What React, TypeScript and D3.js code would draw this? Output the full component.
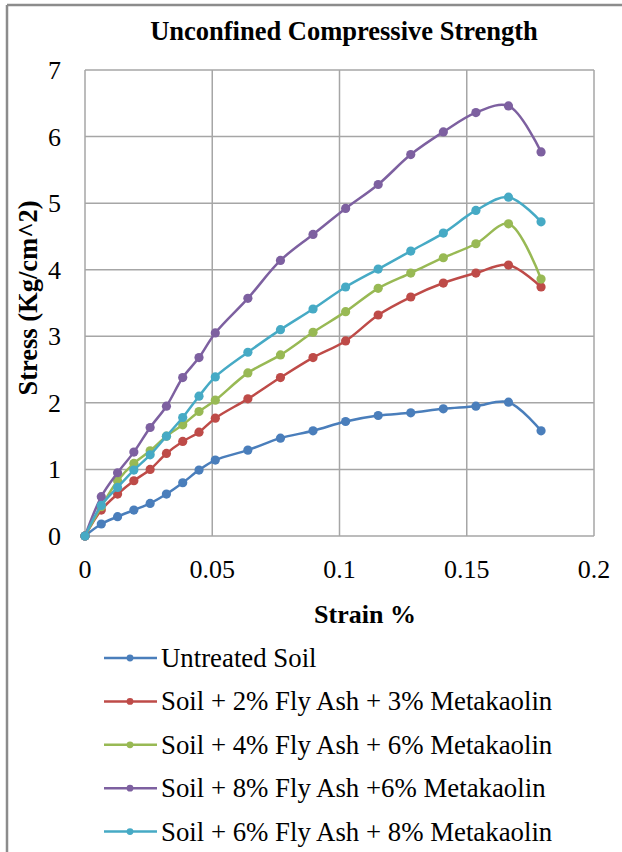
import React from "react";
import * as d3 from "d3";

const strain = [0, 0.0064, 0.0128, 0.0192, 0.0256, 0.032, 0.0384, 0.0448, 0.0512, 0.064, 0.0768, 0.0896, 0.1024, 0.1152, 0.128, 0.1408, 0.1536, 0.1664, 0.1792];

const untreated = [0, 0.18, 0.29, 0.39, 0.49, 0.63, 0.8, 0.99, 1.14, 1.29, 1.47, 1.58, 1.72, 1.81, 1.85, 1.91, 1.95, 2.01, 1.58];
const fa2mk3 = [0, 0.39, 0.63, 0.83, 1.0, 1.24, 1.42, 1.56, 1.77, 2.06, 2.38, 2.68, 2.93, 3.32, 3.59, 3.8, 3.95, 4.07, 3.74];
const fa4mk6 = [0, 0.44, 0.83, 1.09, 1.28, 1.5, 1.67, 1.87, 2.04, 2.45, 2.72, 3.06, 3.37, 3.72, 3.95, 4.18, 4.39, 4.69, 3.86];
const fa8mk6 = [0, 0.59, 0.95, 1.26, 1.63, 1.95, 2.38, 2.68, 3.05, 3.57, 4.14, 4.53, 4.92, 5.28, 5.73, 6.07, 6.36, 6.46, 5.77];
const fa6mk8 = [0, 0.46, 0.73, 0.99, 1.22, 1.5, 1.78, 2.1, 2.39, 2.76, 3.1, 3.41, 3.74, 4.01, 4.28, 4.55, 4.89, 5.09, 4.72];

const seriesNames = [
  "Untreated Soil",
  "Soil + 2% Fly Ash + 3% Metakaolin",
  "Soil + 4% Fly Ash + 6% Metakaolin",
  "Soil + 8% Fly Ash +6% Metakaolin",
  "Soil + 6% Fly Ash + 8% Metakaolin",
];
const seriesValues = [untreated, fa2mk3, fa4mk6, fa8mk6, fa6mk8];
const seriesColors = ["#4A7EBB", "#BE4B48", "#98B954", "#7D60A0", "#46AAC5"];

const xTicks = [0, 0.05, 0.1, 0.15, 0.2];
const yTicks = [0, 1, 2, 3, 4, 5, 6, 7];

const W = 622;
const H = 852;
const plot = { left: 85, right: 594, top: 70, bottom: 536 };
const FONT = "'Liberation Serif', 'Times New Roman', serif";

export default function App() {
  const x = d3.scaleLinear().domain([0, 0.2]).range([plot.left, plot.right]);
  const y = d3.scaleLinear().domain([0, 7]).range([plot.bottom, plot.top]);
  const line = d3
    .line<[number, number]>()
    .x((d) => x(d[0]))
    .y((d) => y(d[1]))
    .curve(d3.curveCatmullRom.alpha(0.5));

  const gridColor = "#A6A6A6";
  const legendTop = 658;
  const legendStep = 43.4;

  return (
    <svg
      width={W}
      height={H}
      style={{ position: "absolute", left: 0, top: 0, background: "#fff" }}
      fontFamily={FONT}
    >
      <rect x={0} y={0} width={W} height={H} fill="#fff" />
      {/* frame */}
      <line x1={7} y1={5} x2={W} y2={5} stroke="#8C8C8C" strokeWidth={2.5} />
      <line x1={7} y1={5} x2={7} y2={H} stroke="#8C8C8C" strokeWidth={2.5} />

      <text x={344} y={40} textAnchor="middle" fontSize={26.5} fontWeight="bold" fill="#000">
        Unconfined Compressive Strength
      </text>

      {/* gridlines */}
      {xTicks.map((t) => (
        <line key={"gx" + t} x1={x(t)} x2={x(t)} y1={plot.top} y2={plot.bottom} stroke={gridColor} strokeWidth={1.5} />
      ))}
      {yTicks.map((t) => (
        <line key={"gy" + t} x1={plot.left} x2={plot.right} y1={y(t)} y2={y(t)} stroke={gridColor} strokeWidth={1.5} />
      ))}

      {/* y tick labels */}
      {yTicks.map((t) => (
        <text key={"ty" + t} x={61} y={y(t) + 9} textAnchor="end" fontSize={26} fill="#000">
          {t}
        </text>
      ))}
      {/* x tick labels */}
      {xTicks.map((t) => (
        <text key={"tx" + t} x={x(t)} y={578} textAnchor="middle" fontSize={26} fill="#000">
          {String(t)}
        </text>
      ))}

      <text x={365} y={623} textAnchor="middle" fontSize={26} fontWeight="bold" fill="#000">
        Strain %
      </text>
      <text
        transform={`translate(37, ${(plot.top + plot.bottom) / 2 - 5}) rotate(-90)`}
        textAnchor="middle"
        fontSize={26.5}
        fontWeight="bold"
        fill="#000"
      >
        Stress (Kg/cm^2)
      </text>

      {/* series */}
      {seriesValues.map((vals, i) => {
        const pts: [number, number][] = strain.map((s, k) => [s, vals[k]]);
        return (
          <g key={"s" + i}>
            <path d={line(pts) || ""} fill="none" stroke={seriesColors[i]} strokeWidth={2.5} />
            {pts.map((p, k) => (
              <circle key={k} cx={x(p[0])} cy={y(p[1])} r={4.6} fill={seriesColors[i]} />
            ))}
          </g>
        );
      })}

      {/* legend */}
      {seriesNames.map((name, i) => {
        const cy = legendTop + i * legendStep;
        return (
          <g key={"l" + i}>
            <line x1={104} x2={157} y1={cy} y2={cy} stroke={seriesColors[i]} strokeWidth={2.5} />
            <circle cx={130} cy={cy} r={3.4} fill={seriesColors[i]} />
            <text x={161} y={cy + 9} fontSize={26.8} fill="#000">
              {name}
            </text>
          </g>
        );
      })}
    </svg>
  );
}
